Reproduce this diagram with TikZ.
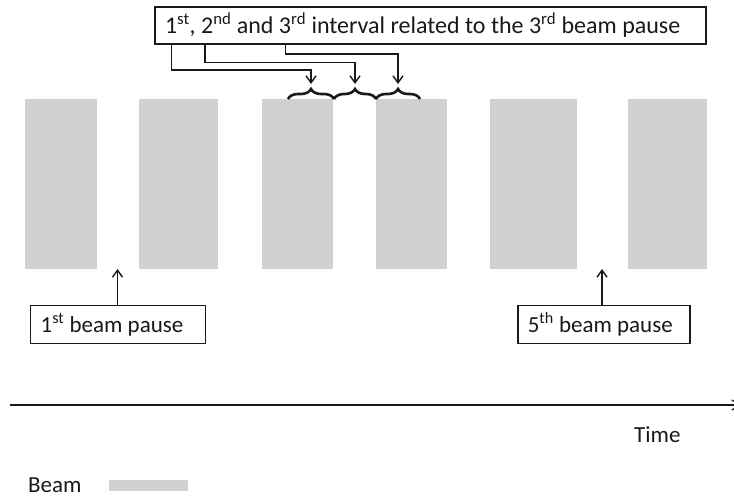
\documentclass[tikz,border=0pt]{standalone}
\usepackage{fontspec}
\setmainfont{Carlito}
\usetikzlibrary{arrows.meta,decorations.pathreplacing}
\definecolor{beamgray}{RGB}{208,209,211}
\definecolor{ink}{RGB}{25,25,25}
\tikzset{
  beamrect/.style={fill=beamgray,draw=none},
  labelbox/.style={draw=ink,line width=1.4pt,inner sep=0pt,minimum height=38pt,text=ink},
  conn/.style={draw=ink,line width=1.4pt},
  arr/.style={conn,-{Straight Barb[length=7pt,width=10pt,line width=1.4pt]}},
  bracestyle/.style={draw=ink,line width=2.6pt,decorate,decoration={brace,amplitude=10pt}},
}
\begin{document}
\begin{tikzpicture}[x=1pt,y=-1pt,font=\fontsize{23}{27}\selectfont]
\useasboundingbox (0,0) rectangle (734,497);
\clip (0,0) rectangle (734,497);
% beams
\path[beamrect] (25,99) rectangle (96.7,269);
\path[beamrect] (139,99) rectangle (218,269);
\path[beamrect] (261.7,99) rectangle (332.7,269);
\path[beamrect] (376,99) rectangle (447,269);
\path[beamrect] (490,99) rectangle (577,269);
\path[beamrect] (627.7,99) rectangle (706.7,269);
% top box
\node[labelbox,minimum height=37pt,font=\fontsize{24}{28}\selectfont] (top) at (430.5,25.5) {\makebox[551pt][l]{\hspace*{10pt}1\textsuperscript{st}, 2\textsuperscript{nd} and 3\textsuperscript{rd} interval related to the 3\textsuperscript{rd} beam pause}};
% braces
\coordinate (b0) at (288,99);
\coordinate (b1) at (334,99);
\coordinate (b2) at (376,99);
\coordinate (b3) at (420,99);
\draw[bracestyle] (b0) -- (b1);
\draw[bracestyle] (b1) -- (b2);
\draw[bracestyle] (b2) -- (b3);
\coordinate (t1) at (311,84);
\coordinate (t2) at (355,84);
\coordinate (t3) at (398,84);
\coordinate (s1) at (171.7,44);
\coordinate (s2) at (205,44);
\coordinate (s3) at (285.7,44);
\draw[arr] (s1) |- (311,70) -- (t1);
\draw[arr] (s2) |- (355,62.7) -- (t2);
\draw[arr] (s3) |- (398,54) -- (t3);
% lower boxes
\node[labelbox] (p1) at (118.2,324.5) {\makebox[175pt][l]{\hspace*{10pt}1\textsuperscript{st} beam pause}};
\node[labelbox] (p5) at (603.8,324.5) {\makebox[172pt][l]{\hspace*{10pt}5\textsuperscript{th} beam pause}};
\coordinate (g1) at (117.5,269);
\coordinate (g5) at (602,269);
\draw[arr] (p1.north -| g1) -- (g1);
\draw[arr] (p5.north -| g5) -- (g5);
% time axis
\coordinate (a0) at (10,405);
\coordinate (a1) at (741,405);
\draw[conn,line width=1.6pt,-{Straight Barb[length=8pt,width=10pt,line width=1.2pt]}] (a0) -- (a1);
\node[anchor=base west,inner sep=0pt,text=ink] (time) at (634,442) {Time};
% legend
\node[anchor=base west,inner sep=0pt,text=ink] (beam) at (28,492) {Beam};
\path[beamrect] (109,480) rectangle (188,490.7);
\end{tikzpicture}
\end{document}
